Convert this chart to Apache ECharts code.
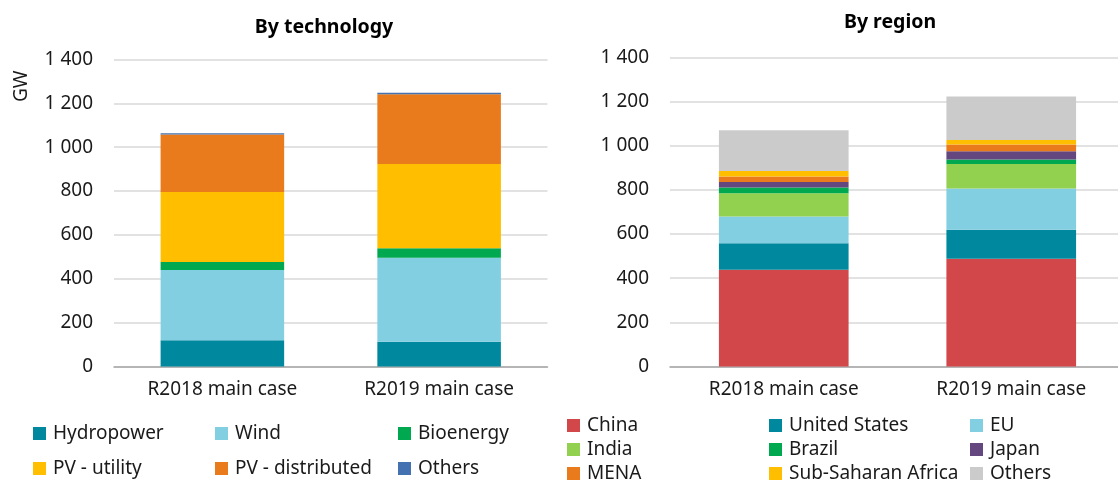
<!DOCTYPE html>
<html>
<head>
<meta charset="utf-8">
<script src="https://cdn.jsdelivr.net/npm/echarts@6/dist/echarts.min.js"></script>
<style>
  html, body { margin: 0; padding: 0; background: #fff; }
  #chart { width: 1118px; height: 483px; }
</style>
</head>
<body>
<div id="chart"></div>
<script>
// categories
const cases = ['R2018 main case', 'R2019 main case'];
const yTicks = [0, 200, 400, 600, 800, 1000, 1200, 1400];

// by technology (GW)
const hydropower = [120, 113];
const wind = [320, 383];
const bioenergy = [37, 43];
const pvUtility = [319, 385];
const pvDistributed = [262, 318];
const othersTech = [6, 6];

// by region (GW)
const china = [438, 488];
const unitedStates = [120, 132];
const eu = [122, 186];
const india = [105, 112];
const brazil = [26, 20];
const japan = [25, 37];
const mena = [25, 31];
const subSaharan = [25, 20];
const othersRegion = [184, 197];

const font = 'Noto Sans';
const textColor = '#1a1a1a';
const fs = 19;

function fmt(v) {
  if (v >= 1000) return Math.floor(v / 1000) + ' ' + String(v % 1000).padStart(3, '0');
  return String(v);
}

let techSeries = [
  ['Hydropower', hydropower, '#00889E'],
  ['Wind', wind, '#83CFE2'],
  ['Bioenergy', bioenergy, '#00A94F'],
  ['PV - utility', pvUtility, '#FFBE00'],
  ['PV - distributed', pvDistributed, '#E97B1C'],
  ['Others', othersTech, '#4472B0']
];
let regionSeries = [
  ['China', china, '#D1474A'],
  ['United States', unitedStates, '#00889E'],
  ['EU', eu, '#83CFE2'],
  ['India', india, '#92D050'],
  ['Brazil', brazil, '#00A94F'],
  ['Japan', japan, '#654780'],
  ['MENA', mena, '#E97B1C'],
  ['Sub-Saharan Africa', subSaharan, '#FFBE00'],
  ['Others (region)', othersRegion, '#CBCBCB']
];

function makeSeries(list, idx, stack) {
  return list.map(s => ({
    name: s[0],
    type: 'bar',
    stack: stack,
    xAxisIndex: idx,
    yAxisIndex: idx,
    barWidth: '57%',
    data: s[1],
    itemStyle: { color: s[2] },
    emphasis: { disabled: true }
  }));
}

function xAxisOf(idx) {
  return {
    type: 'category',
    gridIndex: idx,
    data: cases,
    axisTick: { show: false },
    axisLine: { lineStyle: { color: '#a6a6a6', width: 1.5 } },
    axisLabel: { color: textColor, fontFamily: font, fontSize: fs, margin: 14 }
  };
}
function yAxisOf(idx) {
  return {
    type: 'value',
    gridIndex: idx,
    min: yTicks[0],
    max: yTicks[yTicks.length - 1],
    interval: 200,
    axisLine: { show: false },
    axisTick: { show: false },
    splitLine: { lineStyle: { color: '#d9d9d9', width: 1.5 } },
    axisLabel: { color: textColor, fontFamily: font, fontSize: fs, margin: 21, formatter: fmt }
  };
}

// one legend per item so the columns line up like the original
function legendItem(name, left, midY) {
  return {
    data: [name],
    left: left,
    top: midY - 11,
    padding: 0,
    itemWidth: 13,
    itemHeight: 13,
    icon: 'rect',
    selectedMode: false,
    formatter: n => n.replace(' (region)', ''),
    textStyle: { color: textColor, fontFamily: font, fontSize: fs, padding: [0, 0, 0, 2] }
  };
}

let legendLayout = [
  ['Hydropower', 33, 435], ['Wind', 215, 435], ['Bioenergy', 398, 435],
  ['PV - utility', 33, 470], ['PV - distributed', 215, 470], ['Others', 398, 470],
  ['China', 567, 427], ['United States', 769, 427], ['EU', 970, 427],
  ['India', 567, 451], ['Brazil', 769, 451], ['Japan', 970, 451],
  ['MENA', 567, 475], ['Sub-Saharan Africa', 769, 475], ['Others (region)', 970, 475]
];

let option = {
  animation: false,
  backgroundColor: '#fff',
  title: [
    { text: 'By technology', left: 319, top: 12, textAlign: 'center',
      textStyle: { fontFamily: font, fontSize: 19.5, fontWeight: 'bold', color: '#000' } },
    { text: 'By region', left: 885, top: 7, textAlign: 'center',
      textStyle: { fontFamily: font, fontSize: 19.5, fontWeight: 'bold', color: '#000' } }
  ],
  graphic: [
    { type: 'text', x: 12, y: 102, rotation: Math.PI / 2,
      style: { text: 'GW', fontFamily: font, fontSize: fs, fill: textColor } }
  ],
  grid: [
    { left: 114, top: 59.5, width: 433.5, height: 307, outerBoundsMode: 'none' },
    { left: 670, top: 57.5, width: 455, height: 309, outerBoundsMode: 'none' }
  ],
  xAxis: [xAxisOf(0), xAxisOf(1)],
  yAxis: [yAxisOf(0), yAxisOf(1)],
  legend: legendLayout.map(l => legendItem(l[0], l[1], l[2])),
  series: makeSeries(techSeries, 0, 'tech').concat(makeSeries(regionSeries, 1, 'region'))
};

let chart = echarts.init(document.getElementById('chart'), null, { renderer: 'canvas' });
chart.setOption(option);
</script>
</body>
</html>
